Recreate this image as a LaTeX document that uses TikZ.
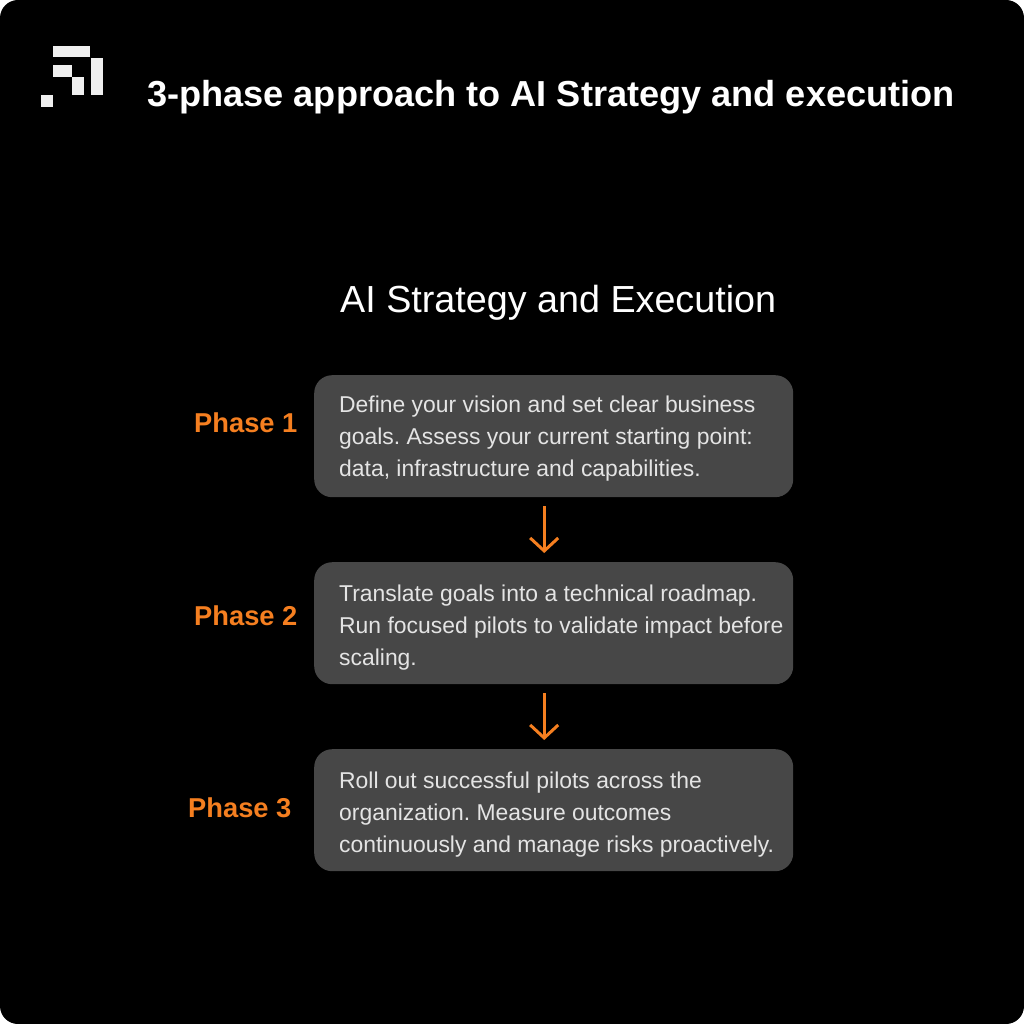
\documentclass[tikz,border=0pt]{standalone}
\usepackage{fontspec}
\setmainfont{Liberation Sans}
\definecolor{boxgrey}{HTML}{474747}
\definecolor{bodytxt}{HTML}{E4E4E4}
\definecolor{accent}{HTML}{F57F20}
\definecolor{logow}{HTML}{EFEFEF}
\usetikzlibrary{arrows.meta}
\tikzset{
  stagebox/.style={fill=boxgrey,rounded corners=18pt,minimum width=479pt,minimum height=122pt,inner sep=0pt,anchor=north west},
  boxtext/.style={anchor=west,align=left,inner sep=0pt,text=bodytxt,font=\frenchspacing\fontsize{22.9}{32.2}\selectfont},
  phase/.style={anchor=base west,inner sep=0pt,text=accent,font=\bfseries\fontsize{27.3}{30}\selectfont},
  flow/.style={draw=accent,line width=3pt,-{Straight Barb[length=13pt,width=28pt,line width=3pt]}},
  logopart/.style={fill=logow}
}
\begin{document}
\begin{tikzpicture}[x=1pt,y=-1pt]
\useasboundingbox (0,0) rectangle (1024,1024);
\fill[white] (0,0) rectangle (1024,1024);
\fill[black,rounded corners=18pt] (0,0) rectangle (1024,1024);
% logo
\fill[logopart] (53,46) rectangle (90,57);
\fill[logopart] (91,58) rectangle (103,95);
\fill[logopart] (53,65) rectangle (72,77);
\fill[logopart] (72,77) rectangle (84,95);
\fill[logopart] (41,95) rectangle (53,107);
% headings
\node[anchor=base west,inner sep=0pt,text=white,font=\bfseries\fontsize{36.15}{40}\selectfont] (title) at (147,107) {3-phase approach to AI Strategy and execution};
\node[anchor=base west,inner sep=0pt,text=white,font=\fontsize{37.7}{42}\selectfont] (sub) at (340,312.5) {AI Strategy and Execution};
% boxes
\node[stagebox] (b1) at (314,375) {};
\node[stagebox] (b2) at (314,562) {};
\node[stagebox] (b3) at (314,749) {};
\node[boxtext] (t1) at ([xshift=25pt,yshift=-2.5pt]b1.west) {Define your vision and set clear business\\goals. Assess your current starting point:\\data, infrastructure and capabilities.};
\node[boxtext] (t2) at ([xshift=25pt,yshift=-4.5pt]b2.west) {Translate goals into a technical roadmap.\\Run focused pilots to validate impact before\\scaling.};
\node[boxtext] (t3) at ([xshift=25pt,yshift=-4.5pt]b3.west) {Roll out successful pilots across the\\organization. Measure outcomes\\continuously and manage risks proactively.};
% phases
\node[phase] (p1) at (194,432) {Phase 1};
\node[phase] (p2) at (194,625) {Phase 2};
\node[phase] (p3) at (188,817) {Phase 3};
% arrows
\draw[flow] ([xshift=-9.5pt,yshift=-9pt]b1.south) -- ([xshift=-9.5pt,yshift=9pt]b2.north);
\draw[flow] ([xshift=-9.5pt,yshift=-9pt]b2.south) -- ([xshift=-9.5pt,yshift=9pt]b3.north);
\end{tikzpicture}
\end{document}
